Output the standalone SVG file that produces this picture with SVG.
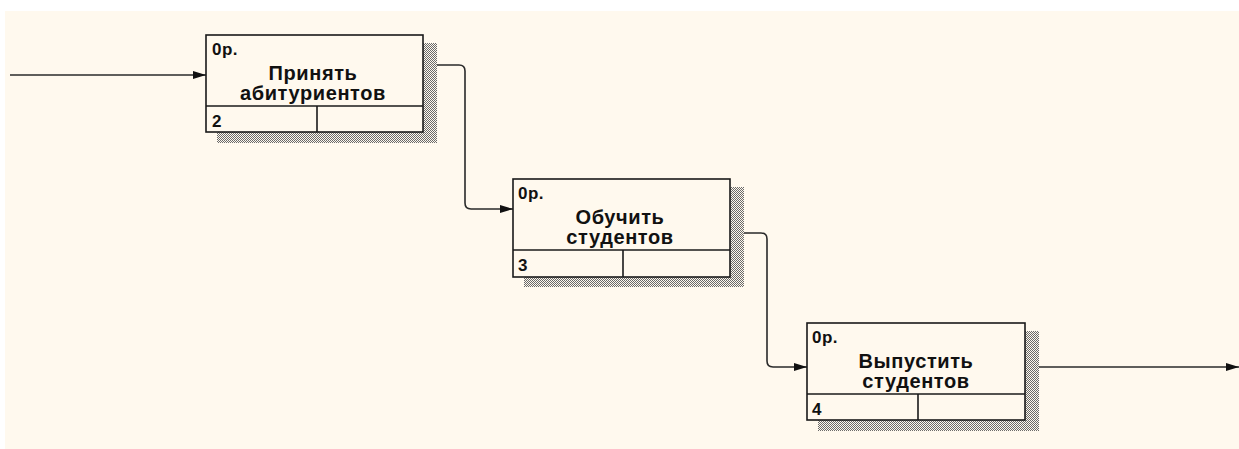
<svg xmlns="http://www.w3.org/2000/svg" width="1239" height="449" viewBox="0 0 1239 449">
  <defs>
    <pattern id="hatch" width="2" height="2" patternUnits="userSpaceOnUse">
      <rect width="2" height="2" fill="#fff9ee"/>
      <rect x="0" y="0" width="1" height="1" fill="#6a6a6a"/>
      <rect x="1" y="1" width="1" height="1" fill="#6a6a6a"/>
    </pattern>
    <marker id="arr" markerWidth="14" markerHeight="10" refX="13" refY="5" orient="auto" markerUnits="userSpaceOnUse">
      <path d="M0,1 L13,5 L0,9 Z" fill="#111"/>
    </marker>
  </defs>
  <style>
    .box { fill: #fff9ee; stroke: #1a1a1a; stroke-width: 1.6; }
    .ln { stroke: #1a1a1a; stroke-width: 1.6; }
    .shadow { fill: url(#hatch); }
    .t { font-family: "Liberation Sans", Arial, sans-serif; font-weight: bold; fill: #111; }
    .lbl { font-size: 17px; letter-spacing: 0.5px; }
    .title { font-size: 20px; text-anchor: middle; letter-spacing: 0.6px; }
    .conn { fill: none; stroke: #2a2a2a; stroke-width: 1.6; }
  </style>
  <rect x="0" y="0" width="1239" height="449" fill="#ffffff"/>
  <rect x="5" y="11" width="1234" height="438" fill="#fff9ee"/>

  <g id="connectors">
    <path class="conn" d="M10,75 H206" marker-end="url(#arr)"/>
    <path class="conn" d="M424,65 H459 Q465,65 465,71 V203 Q465,209 471,209 H513" marker-end="url(#arr)"/>
    <path class="conn" d="M731,233 H761 Q767,233 767,239 V361 Q767,367 773,367 H807" marker-end="url(#arr)"/>
    <path class="conn" d="M1025,367 H1239" marker-end="url(#arr)"/>
  </g>

  <g id="node-1">
    <rect class="shadow" x="423" y="43" width="14" height="100"/>
    <rect class="shadow" x="217" y="132" width="220" height="11"/>
    <rect class="box" x="206" y="35" width="217" height="97"/>
    <line class="ln" x1="206" y1="106" x2="423" y2="106"/>
    <line class="ln" x1="317" y1="106" x2="317" y2="132"/>
    <text class="t lbl" x="212" y="55">0р.</text>
    <text class="t title" x="313" y="80">Принять</text>
    <text class="t title" x="313" y="100">абитуриентов</text>
    <text class="t lbl" x="212" y="127">2</text>
  </g>

  <g id="node-2">
    <rect class="shadow" x="730" y="187" width="14" height="100"/>
    <rect class="shadow" x="524" y="277" width="220" height="10"/>
    <rect class="box" x="513" y="179" width="217" height="98"/>
    <line class="ln" x1="513" y1="250" x2="730" y2="250"/>
    <line class="ln" x1="623" y1="250" x2="623" y2="277"/>
    <text class="t lbl" x="518" y="199">0р.</text>
    <text class="t title" x="620" y="224">Обучить</text>
    <text class="t title" x="620" y="244">студентов</text>
    <text class="t lbl" x="518" y="271">3</text>
  </g>

  <g id="node-3">
    <rect class="shadow" x="1025" y="331" width="14" height="100"/>
    <rect class="shadow" x="818" y="420" width="221" height="11"/>
    <rect class="box" x="807" y="323" width="218" height="97"/>
    <line class="ln" x1="807" y1="394" x2="1025" y2="394"/>
    <line class="ln" x1="918" y1="394" x2="918" y2="420"/>
    <text class="t lbl" x="812" y="343">0р.</text>
    <text class="t title" x="916" y="368">Выпустить</text>
    <text class="t title" x="916" y="388">студентов</text>
    <text class="t lbl" x="812" y="415">4</text>
  </g>
</svg>
